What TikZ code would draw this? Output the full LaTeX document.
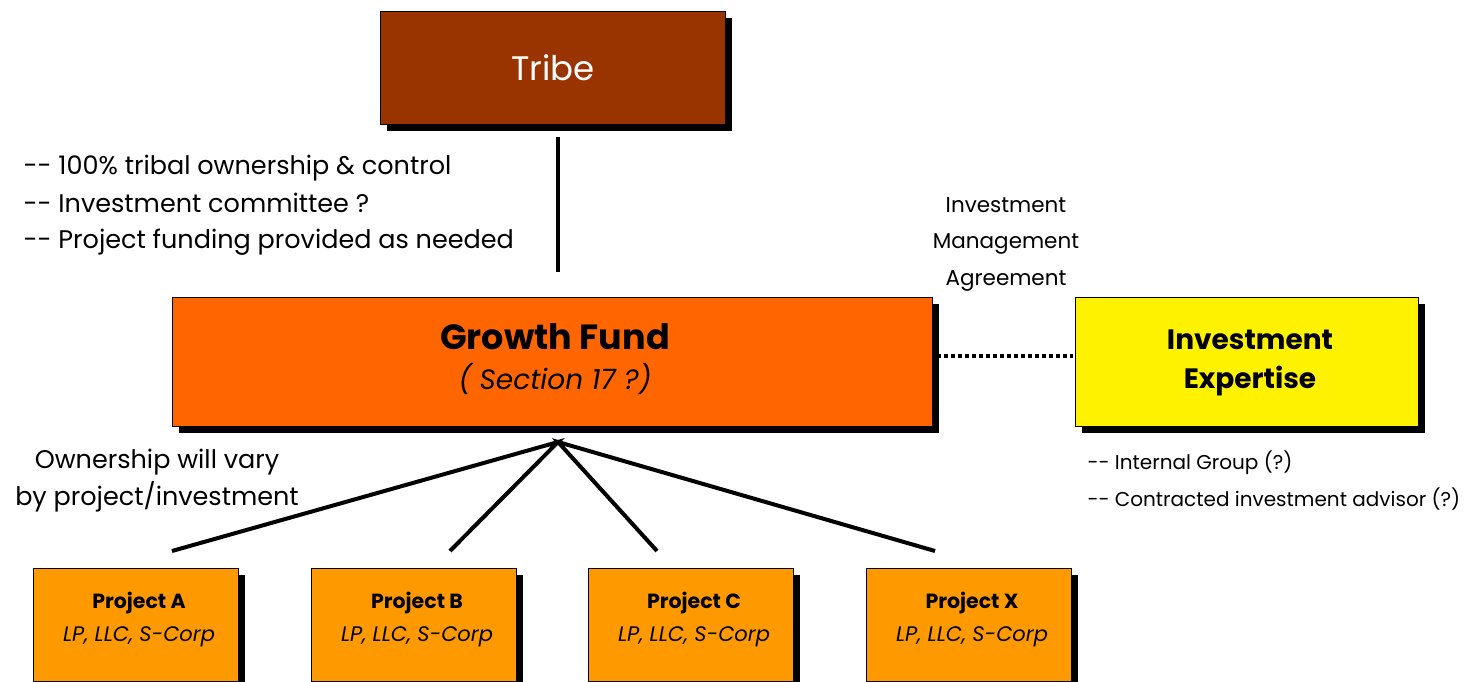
\documentclass[tikz,border=0pt]{standalone}
\usepackage{fontspec}
\setmainfont{Poppins}
\begin{document}
\begin{tikzpicture}[x=1pt,y=-1pt,
  box/.style={draw=black,line width=1pt,inner sep=0pt,anchor=north west},
  conn/.style={line width=4pt,black}]
\useasboundingbox (0,0) rectangle (1478,682);
% shadows
\fill (387,18) rectangle (732,131);
\fill (179,304) rectangle (939,433);
\fill (1082,304) rectangle (1425,433);
\foreach \x in {33,311,588,866} \fill (\x+7,575) rectangle (\x+212,690);
% boxes
\node[box,fill={rgb,255:red,153;green,51;blue,0},minimum width=345pt,minimum height=113pt] (tribe) at (380,11) {};
\node[font=\fontsize{34}{34}\selectfont,text=white] (tribet) at (tribe.center) {Tribe};
\node[box,fill={rgb,255:red,255;green,102;blue,0},minimum width=760pt,minimum height=129pt] (gf) at (172,297) {};
\node[font=\fontsize{35}{35}\selectfont\bfseries] (gft) at (555,337) {Growth Fund};
\node[font=\fontsize{28}{28}\selectfont\itshape] (gfs) at (555,379) {( Section 17 ?)};
\node[box,fill=yellow,minimum width=343pt,minimum height=129pt] (ie) at (1075,297) {};
\node[font=\fontsize{28}{28}\selectfont\bfseries] (iet1) at (1250,340) {Investment};
\node[font=\fontsize{28}{28}\selectfont\bfseries] (iet2) at (1250,381) {Expertise};
\foreach \n/\x/\l in {pa/33/A,pb/311/B,pc/588/C,px/866/X}{
  \node[box,fill={rgb,255:red,255;green,153;blue,0},minimum width=205pt,minimum height=113pt] (\n) at (\x,568) {};
  \node[font=\fontsize{20.5}{20.5}\selectfont\bfseries] (\n t) at (\x+106,603) {Project \l};
  \node[font=\fontsize{21}{21}\selectfont\itshape] (\n s) at (\x+106,637) {LP, LLC, S-Corp};
}
% connectors
\coordinate (t1) at (558,137);
\coordinate (t2) at (558,272);
\draw[conn] (t1) -- (t2);
\coordinate (hub) at (558,442);
\coordinate (ea) at (172,551);
\coordinate (eb) at (450,551);
\coordinate (ec) at (657,551);
\coordinate (ex) at (935,551);
\draw[conn] (ea) -- (hub) -- (eb);
\draw[conn] (ec) -- (hub) -- (ex);
\coordinate (d1) at (937,356);
\coordinate (d2) at (1073,356);
\draw[line width=4pt,dash pattern=on 4pt off 3pt] (d1) -- (d2);
% texts
\node[anchor=base west,font=\fontsize{25.5}{25.5}\selectfont] (l1) at (20,175) {-{}- 100\% tribal ownership \& control};
\node[anchor=base west,font=\fontsize{25.5}{25.5}\selectfont] (l2) at (20,212) {-{}- Investment committee ?};
\node[anchor=base west,font=\fontsize{25.5}{25.5}\selectfont] (l3) at (20,248) {-{}- Project funding provided as needed};
\node[anchor=base,font=\fontsize{21.5}{21.5}\selectfont] (m1) at (1006,212) {Investment};
\node[anchor=base,font=\fontsize{21.5}{21.5}\selectfont] (m2) at (1006,248) {Management};
\node[anchor=base,font=\fontsize{21.5}{21.5}\selectfont] (m3) at (1006,285) {Agreement};
\node[font=\fontsize{25.5}{25.5}\selectfont] (o1) at (157,462) {Ownership will vary};
\node[font=\fontsize{25.5}{25.5}\selectfont] (o2) at (157,497) {by project/investment};
\node[anchor=west,font=\fontsize{20}{20}\selectfont] (r1) at (1084,463) {-{}- Internal Group (?)};
\node[anchor=west,font=\fontsize{20}{20}\selectfont] (r2) at (1084,499) {-{}- Contracted investment advisor (?)};
\end{tikzpicture}
\end{document}
